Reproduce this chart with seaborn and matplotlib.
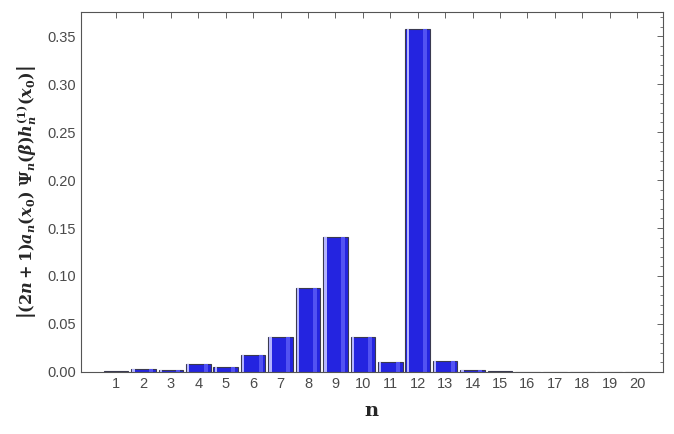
import numpy as np
import pandas as pd
import seaborn as sns
import matplotlib.pyplot as plt
from matplotlib.patches import Rectangle
from matplotlib.ticker import MultipleLocator

# values
n_values = list(range(1, 21))
amplitude = [0.001, 0.0035, 0.0025, 0.0085, 0.005, 0.018, 0.036, 0.088, 0.1405,
             0.036, 0.0105, 0.357, 0.0115, 0.0025, 0.0007, 0.0, 0.0, 0.0, 0.0, 0.0]
y_ticks = [0.00, 0.05, 0.10, 0.15, 0.20, 0.25, 0.30, 0.35]

df = pd.DataFrame({'n': n_values, 'amp': amplitude})

sns.set_style('white')
plt.rcParams['font.family'] = ['Liberation Sans', 'DejaVu Sans']
plt.rcParams['mathtext.fontset'] = 'custom'
plt.rcParams['mathtext.rm'] = 'DejaVu Serif:bold'
plt.rcParams['mathtext.it'] = 'DejaVu Serif:italic:bold'
plt.rcParams['mathtext.bf'] = 'DejaVu Serif:bold'

fig = plt.figure(figsize=(6.74, 4.34), dpi=100)
ax = fig.add_axes([0.120, 0.143, 0.864, 0.829])

sns.barplot(x='n', y='amp', data=df, ax=ax, color='#2424e0', saturation=1,
            width=0.9, edgecolor='#3a3a50', linewidth=0.8)

# shading strips on each bar (light on the left, softer on the right)
for p in list(ax.patches):
    if p.get_height() > 0.0015:
        x0, w, h = p.get_x(), p.get_width(), p.get_height()
        z = p.get_zorder() + 0.1
        ax.add_patch(Rectangle((x0 + 0.05 * w, 0), 0.09 * w, h, facecolor='#b4b4ff',
                               edgecolor='none', zorder=z))
        ax.add_patch(Rectangle((x0 + 0.72 * w, 0), 0.16 * w, h, facecolor='#5252f2',
                               edgecolor='none', zorder=z))

ax.set_xlim(-1.28, 19.95)
ax.set_ylim(0, 0.375)
ax.set_yticks(y_ticks)
ax.set_yticklabels([f'{v:.2f}' for v in y_ticks])
ax.yaxis.set_minor_locator(MultipleLocator(0.01))

ax.tick_params(axis='both', which='both', direction='in', colors='#4a4a4a',
               labelsize=10.5, top=True, right=True, labeltop=False, labelright=False)
ax.tick_params(axis='both', which='major', length=4, width=0.6)
ax.tick_params(axis='y', which='minor', length=2, width=0.5)
ax.tick_params(axis='x', which='major', pad=4)
for s in ax.spines.values():
    s.set_color('#555555')
    s.set_linewidth(0.8)

ax.set_xlabel(r'$\mathbf{n}$', fontsize=14, labelpad=8)
ax.set_ylabel(r'$\left|(2n+1)a_n(x_0)\ \Psi_n(\beta)h_n^{(1)}(x_0)\right|$',
              fontsize=11.5, labelpad=6)

fig.savefig('out.png', dpi=100)
